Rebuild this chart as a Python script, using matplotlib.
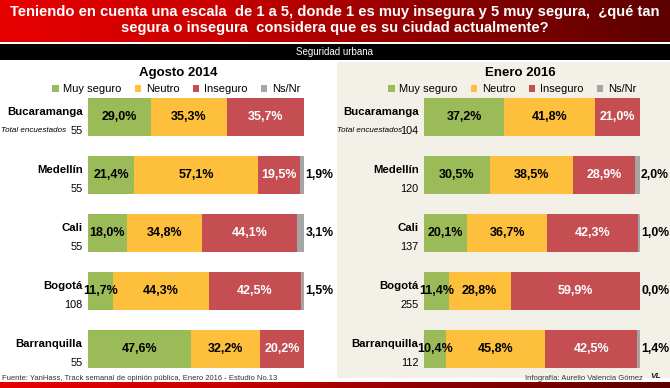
import numpy as np
import matplotlib.pyplot as plt
from matplotlib.colors import LinearSegmentedColormap
from matplotlib.patches import Rectangle, Patch
import matplotlib.transforms as mtrans

plt.rcParams['font.family'] = ['Liberation Sans', 'DejaVu Sans']

W, H = 670, 388

cities = ['Bucaramanga', 'Medellín', 'Cali', 'Bogotá', 'Barranquilla']
cats = ['Muy seguro', 'Neutro', 'Inseguro', 'Ns/Nr']
colors = ['#9bbb59', '#fdbf3c', '#c44e52', '#a5a5a5']
txt_colors = ['black', 'black', 'white']

# Agosto 2014
n_2014 = [55, 55, 55, 108, 55]
seguro_2014 = [29.0, 21.4, 18.0, 11.7, 47.6]
neutro_2014 = [35.3, 57.1, 34.8, 44.3, 32.2]
inseguro_2014 = [35.7, 19.5, 44.1, 42.5, 20.2]
nsnr_2014 = [None, 1.9, 3.1, 1.5, None]

# Enero 2016
n_2016 = [104, 120, 137, 255, 112]
seguro_2016 = [37.2, 30.5, 20.1, 11.4, 10.4]
neutro_2016 = [41.8, 38.5, 36.7, 28.8, 45.8]
inseguro_2016 = [21.0, 28.9, 42.3, 59.9, 42.5]
nsnr_2016 = [None, 2.0, 1.0, 0.0, 1.4]


def px(x, y, w, h):
    # pixel box (top-left origin) -> figure fraction
    return [x / W, 1 - (y + h) / H, w / W, h / H]


def pct(v):
    return ('%.1f%%' % v).replace('.', ',')


fig = plt.figure(figsize=(6.7, 3.88), dpi=100)

# header band (gradient)
hdr = fig.add_axes(px(0, 0, W, 42))
grad = LinearSegmentedColormap.from_list('g', ['#e80000', '#c80000', '#8a0000', '#5c0000'])
hdr.imshow(np.linspace(0, 1, 256).reshape(1, -1), aspect='auto', cmap=grad, extent=[0, 1, 0, 1])
hdr.axis('off')
hdr.text(0.5, 0.52, 'Teniendo en cuenta una escala  de 1 a 5, donde 1 es muy insegura y 5 muy segura,  ¿qué tan\n'
         'segura o insegura  considera que es su ciudad actualmente?',
         ha='center', va='center', color='white', fontsize=10.6, fontweight='bold',
         linespacing=1.2, transform=hdr.transAxes)

# black band
blk = fig.add_axes(px(0, 44, W, 16))
blk.set_facecolor('black')
blk.set_xticks([]); blk.set_yticks([])
for s in blk.spines.values():
    s.set_visible(False)
blk.text(0.5, 0.5, 'Seguridad urbana', ha='center', va='center', color='white', fontsize=7,
         transform=blk.transAxes)

# beige panel on the right
fig.patches.append(Rectangle((337 / W, 1 - 378 / H), 333 / W, 316 / H, transform=fig.transFigure,
                             facecolor='#f3f0e7', edgecolor='none', zorder=-1))

# bottom band
bot = fig.add_axes(px(0, 382, W, 6))
bot.imshow(np.linspace(0, 1, 256).reshape(1, -1), aspect='auto', cmap=grad, extent=[0, 1, 0, 1])
bot.axis('off')


def panel(left, title, title_x, n, seg, neu, ins, ns, leg_x, tot_x):
    ax = fig.add_axes(px(left, 88, 216, 290))
    ax.set_facecolor('none')
    y = np.arange(len(cities))
    nsv = [0 if v is None else v for v in ns]
    series = [seg, neu, ins, nsv]
    base = np.zeros(len(cities))
    for k, vals in enumerate(series):
        vals = np.array(vals)
        ax.barh(y, vals, left=base, height=0.66, color=colors[k], linewidth=0)
        if k < 3:
            for i, v in enumerate(vals):
                ax.text(base[i] + v / 2, y[i], pct(v), ha='center', va='center',
                        color=txt_colors[k], fontsize=9, fontweight='bold')
        base = base + vals
    for i, v in enumerate(ns):
        if v is not None:
            ax.text(base[i] + 0.6, y[i], pct(v), ha='left', va='center', fontsize=8.8, fontweight='bold')
    ax.set_xlim(0, 100)
    ax.set_ylim(4.5, -0.5)
    ax.axis('off')
    tr = mtrans.blended_transform_factory(ax.transAxes, ax.transData)
    for i, c in enumerate(cities):
        ax.text(-0.025, y[i] - 0.08, c, transform=tr, ha='right', va='center',
                fontsize=8.2, fontweight='bold')
        ax.text(-0.025, y[i] + 0.24, str(n[i]), transform=tr, ha='right', va='center', fontsize=7.8)
    fig.text(tot_x / W, 1 - (117 + 0.24 * 58) / H, 'Total encuestados', ha='right', va='center',
             fontsize=5.8, style='italic')
    fig.text(title_x / W, 1 - 73 / H, title, ha='center', va='center', fontsize=9.5, fontweight='bold')
    handles = [Patch(facecolor=colors[k], edgecolor='none') for k in range(4)]
    fig.legend(handles, cats, loc='center', bbox_to_anchor=(leg_x / W, 1 - 89 / H), ncol=4,
               frameon=False, fontsize=8, handlelength=0.6, handleheight=0.6, handletextpad=0.4,
               columnspacing=1.2, borderpad=0)
    return ax


panel(88, 'Agosto 2014', 178, n_2014, seguro_2014, neutro_2014, inseguro_2014, nsnr_2014, 176, 66)
panel(424, 'Enero 2016', 520, n_2016, seguro_2016, neutro_2016, inseguro_2016, nsnr_2016, 512, 402)

fig.text(2 / W, 1 - 378 / H, 'Fuente: YanHass, Track semanal de opinión pública, Enero 2016 - Estudio No.13',
         ha='left', va='center', fontsize=5.5, color='#333333')
fig.text(643 / W, 1 - 378 / H, 'Infografía: Aurelio Valencia Gómez', ha='right', va='center',
         fontsize=5.5, color='#333333')
fig.text(656 / W, 1 - 377 / H, 'VL', ha='center', va='center', fontsize=6, fontweight='bold',
         style='italic', color='#222222')

fig.savefig('out.png', dpi=100)
